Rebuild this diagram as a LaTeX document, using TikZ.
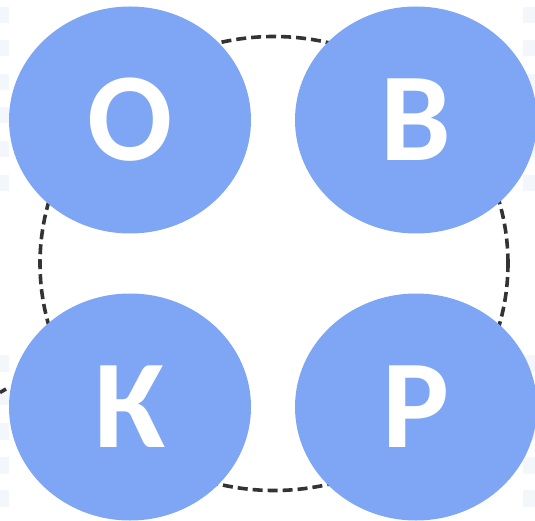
\documentclass[tikz,border=0pt]{standalone}
\usepackage{fontspec}
\setmainfont{Carlito}
\usetikzlibrary{shapes.geometric}
\definecolor{bubble}{HTML}{7EA6F4}
\definecolor{tile}{HTML}{F3F6FB}
\definecolor{ring}{HTML}{333333}
\tikzset{
  bubblenode/.style={ellipse, fill=bubble, draw=none, minimum width=242pt, minimum height=227pt, inner sep=0pt,
    text=white, font=\fontsize{126}{126}\selectfont\bfseries},
  ringline/.style={draw=ring, line width=3.6pt, dash pattern=on 10pt off 5pt},
  tilebox/.style={fill=tile, draw=none}
}
\begin{document}
\begin{tikzpicture}[x=1pt,y=-1pt]
\useasboundingbox (0,0) rectangle (535,521);
% background tiles
\foreach \yy in {7,40,74,107,141,175,355,388,423,457,490}{
  \fill[tilebox] (0,\yy) rectangle (9,\yy+16.5);
  \fill[tilebox] (523,\yy) rectangle (535,\yy+16.5);
}
% dashed ring
\draw[ringline] (274,263.5) ellipse [x radius=234pt, y radius=227pt];
\coordinate (d1) at (0,392.5);
\coordinate (d2) at (6,389);
\draw[ring, line width=3.6pt] (d1) -- (d2);
% bubbles
\node[bubblenode] (o) at (130,120) {О};
\node[bubblenode] (v) at (416,120) {В};
\node[bubblenode] (k) at (130,407) {К};
\node[bubblenode] (r) at (416,407) {Р};
\end{tikzpicture}
\end{document}
